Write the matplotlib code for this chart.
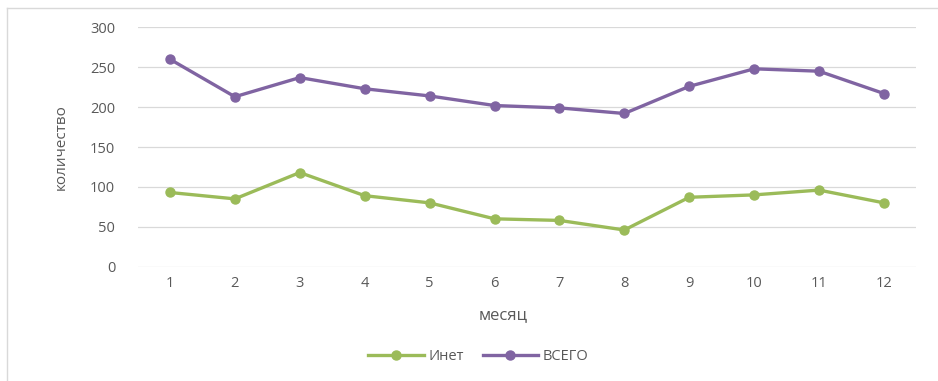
import matplotlib.pyplot as plt
from matplotlib.lines import Line2D

months = list(range(1, 13))
inet = [93, 85, 118, 89, 80, 60, 58, 46, 87, 90, 96, 80]
total = [260, 213, 237, 223, 214, 202, 199, 192, 226, 248, 245, 217]
yticks = [0, 50, 100, 150, 200, 250, 300]

plt.rcParams['font.family'] = ['Open Sans', 'DejaVu Sans']
text_color = '#595959'

fig = plt.figure(figsize=(9.38, 3.81), dpi=100)
ax = fig.add_axes([0.1466, 0.30, 0.8304, 0.6283])

ax.plot(months, inet, color='#9BBB59', lw=2.4, marker='o', ms=6.5, label='Инет')
ax.plot(months, total, color='#8064A2', lw=2.4, marker='o', ms=6.5, label='ВСЕГО')

ax.set_xlim(0.5, 12.5)
ax.set_ylim(0, 300)
ax.set_xticks(months)
ax.set_yticks(yticks)
ax.grid(axis='y', color='#d9d9d9', lw=0.9)
ax.set_axisbelow(True)
for s in ax.spines.values():
    s.set_visible(False)
ax.tick_params(length=0, colors=text_color, labelsize=10.5)
ax.tick_params(axis='y', pad=16)
ax.tick_params(axis='x', pad=7)

ax.set_xlabel('месяц', color=text_color, fontsize=12, va='center')
ax.xaxis.set_label_coords(0.47, -0.202)
ax.set_ylabel('количество', color=text_color, fontsize=11)
ax.yaxis.set_label_coords(-0.0885, 0.5)

leg = ax.legend(loc='center', bbox_to_anchor=(0.4375, -0.377), ncol=2,
                frameon=False, fontsize=10.5, handlelength=3.8, columnspacing=1.3,
                handletextpad=0.3)
for t in leg.get_texts():
    t.set_color(text_color)

# outer chart border (left and top visible)
fig.add_artist(Line2D([0.0075, 0.0075], [0, 0.979], color='#d9d9d9', lw=1, transform=fig.transFigure))
fig.add_artist(Line2D([0.0075, 1], [0.979, 0.979], color='#d9d9d9', lw=1, transform=fig.transFigure))

fig.savefig('out.png', dpi=100)
